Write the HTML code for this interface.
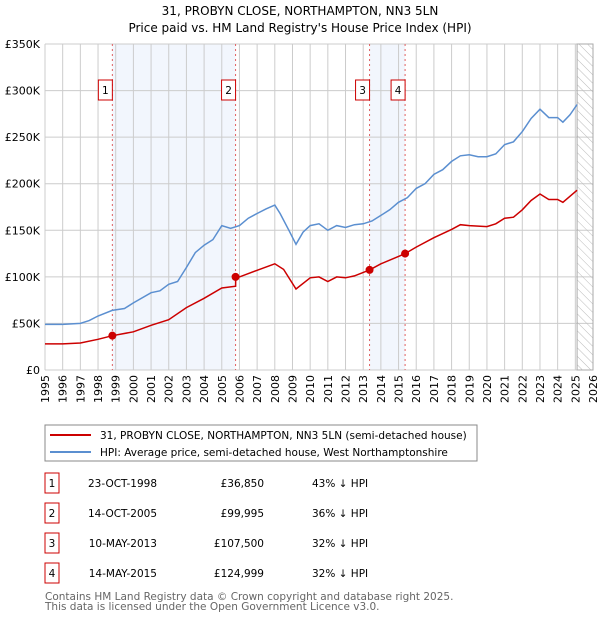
<!DOCTYPE html>
<html><head><meta charset="utf-8"><style>
body{margin:0;background:#fff;font-family:"Liberation Sans","DejaVu Sans",sans-serif}
svg text{font-family:"DejaVu Sans","Liberation Sans",sans-serif}
</style></head><body>
<svg id="c" width="600" height="620" xmlns="http://www.w3.org/2000/svg">
<defs><pattern id="hatch" width="6" height="6" patternUnits="userSpaceOnUse" patternTransform="rotate(-45)"><line x1="0" y1="0" x2="0" y2="6" stroke="#bbb" stroke-width="1"/></pattern></defs>
<text x="300" y="15" text-anchor="middle" font-size="12">31, PROBYN CLOSE, NORTHAMPTON, NN3 5LN</text>
<text x="300" y="32" text-anchor="middle" font-size="12">Price paid vs. HM Land Registry's House Price Index (HPI)</text>
<g id="plot"></g>
<rect x="45" y="425" width="432" height="36" fill="#fff" stroke="#888"/>
<line x1="50" y1="435" x2="91" y2="435" stroke="#cc0000" stroke-width="2"/>
<text x="100" y="439" font-size="10.5">31, PROBYN CLOSE, NORTHAMPTON, NN3 5LN (semi-detached house)</text>
<line x1="50" y1="452" x2="91" y2="452" stroke="#5b8fd0" stroke-width="2"/>
<text x="100" y="456" font-size="10.5">HPI: Average price, semi-detached house, West Northamptonshire</text>
<g id="tbl" font-size="10.5"></g>
<text x="45" y="600" font-size="10.5" fill="#666">Contains HM Land Registry data © Crown copyright and database right 2025.</text>
<text x="45" y="610" font-size="10.5" fill="#666">This data is licensed under the Open Government Licence v3.0.</text>
</svg>
<script>
const hpiYears=[1995,1996,1997,1997.5,1998,1998.8,1999.5,2000,2001,2001.5,2002,2002.5,2003,2003.5,2004,2004.5,2005,2005.5,2006,2006.5,2007,2007.5,2008,2008.3,2008.8,2009.2,2009.6,2010,2010.5,2011,2011.5,2012,2012.5,2013,2013.5,2014,2014.5,2015,2015.5,2016,2016.5,2017,2017.5,2018,2018.5,2019,2019.5,2020,2020.5,2021,2021.5,2022,2022.5,2023,2023.5,2024,2024.3,2024.7,2025.1];
const hpiValues=[49,49,50,53,58,64,66,72,83,85,92,95,110,126,134,140,155,152,155,163,168,173,177,168,150,135,148,155,157,150,155,153,156,157,160,166,172,180,185,195,200,210,215,224,230,231,229,229,232,242,245,256,270,280,271,271,266,274,285];
const propYears=[1995,1996,1997,1998,1998.81,2000,2001,2002,2003,2004,2005,2005.78,2005.79,2006,2007,2008,2008.5,2009.2,2010,2010.5,2011,2011.5,2012,2012.5,2013.36,2014,2015,2015.37,2016,2017,2018,2018.5,2019,2020,2020.5,2021,2021.5,2022,2022.5,2023,2023.5,2024,2024.3,2025.1];
const propValues=[28,28,29,33,36.85,41,48,54,67,77,88,90,99.995,100,107,114,108,87,99,100,95,100,99,101,107.5,114,122,125,132,142,151,156,155,154,157,163,164,172,182,189,183,183,180,193];
const saleYears=[1998.81,2005.78,2013.36,2015.37];
const saleValues=[36.85,99.995,107.5,124.999];
const saleLabels=["1","2","3","4"];
const saleDates=["23-OCT-1998","14-OCT-2005","10-MAY-2013","14-MAY-2015"];
const salePrices=["£36,850","£99,995","£107,500","£124,999"];
const salePcts=["43% ↓ HPI","36% ↓ HPI","32% ↓ HPI","32% ↓ HPI"];
const yTicks=[0,50,100,150,200,250,300,350];
const yTickLabels=["£0","£50K","£100K","£150K","£200K","£250K","£300K","£350K"];
const xTicks=[1995,1996,1997,1998,1999,2000,2001,2002,2003,2004,2005,2006,2007,2008,2009,2010,2011,2012,2013,2014,2015,2016,2017,2018,2019,2020,2021,2022,2023,2024,2025,2026];
const NS="http://www.w3.org/2000/svg";
const X0=45,X1=593,Y0=370,Y1=44;
const xs=y=>X0+(y-1995)/(2026-1995)*(X1-X0);
const ys=v=>Y0-v/350*(Y0-Y1);
const plot=document.getElementById('plot');
function mk(t,a,p){const e=document.createElementNS(NS,t);for(const k in a)e.setAttribute(k,a[k]);(p||plot).appendChild(e);return e;}
let r;
r=mk('rect',{x:xs(saleYears[0]),y:Y1,width:xs(saleYears[1])-xs(saleYears[0]),height:Y0-Y1,fill:'#f2f6fd'});


r=mk('rect',{x:xs(saleYears[2]),y:Y1,width:xs(saleYears[3])-xs(saleYears[2]),height:Y0-Y1,fill:'#f2f6fd'});


yTicks.forEach((v,i)=>{
 const l=mk('line',{x1:X0,x2:X1,y1:ys(v),y2:ys(v),stroke:'#ccc'});
 
 
 const t=mk('text',{x:X0-5,y:ys(v)+4,'text-anchor':'end','font-size':11});
 t.textContent=yTickLabels[i];
 
 
});
xTicks.forEach(y=>{
 const l=mk('line',{x1:xs(y),x2:xs(y),y1:Y1,y2:Y0,stroke:'#ccc'});
 
 
 const t=mk('text',{x:0,y:0,'font-size':11,'text-anchor':'end',transform:`translate(${xs(y)+4},${Y0+5}) rotate(-90)`});
 t.textContent=y;
 
 
});
r=mk('rect',{x:xs(2025.1),y:Y1,width:X1-xs(2025.1),height:Y0-Y1,fill:'url(#hatch)',stroke:'#aaa'});


saleYears.forEach((y,i)=>{
 const l=mk('line',{x1:xs(y),x2:xs(y),y1:Y1,y2:Y0,stroke:'#e06060','stroke-dasharray':'2,3'});
 
 
 const b=mk('rect',{x:xs(y)-14,y:80,width:14,height:20,fill:'#fff',stroke:'#cc0000'});
 
 
 const t=mk('text',{x:xs(y)-7,y:94,'text-anchor':'middle','font-size':10.5});
 t.textContent=saleLabels[i];
 
 
});
const path=(xa,va,c,n)=>{const p=mk('path',{d:xa.map((y,i)=>(i?'L':'M')+xs(y).toFixed(1)+','+ys(va[i]).toFixed(1)).join(''),fill:'none',stroke:c,'stroke-width':1.5});
 
 };
path(hpiYears,hpiValues,'#5b8fd0','hpi-line');
path(propYears,propValues,'#cc0000','property-line');
saleYears.forEach((y,i)=>{
 const c=mk('circle',{cx:xs(y),cy:ys(saleValues[i]),r:4,fill:'#cc0000'});
 
 
});
const tbl=document.getElementById('tbl');
saleLabels.forEach((s,i)=>{
 const cy=483+i*30;
 const b=mk('rect',{x:45,y:cy-10,width:14,height:20,fill:'#fff',stroke:'#cc0000'},tbl);
 
 
 const cells=[[52,'middle',s,'row-number'],[157,'end',saleDates[i],'sale-date'],[264,'end',salePrices[i],'sale-price'],[312,'start',salePcts[i],'hpi-difference']];
 cells.forEach(c=>{const t=mk('text',{x:c[0],y:cy+4,'text-anchor':c[1]},tbl);
  t.textContent=c[2];
  
  });
});
</script>
</body></html>
